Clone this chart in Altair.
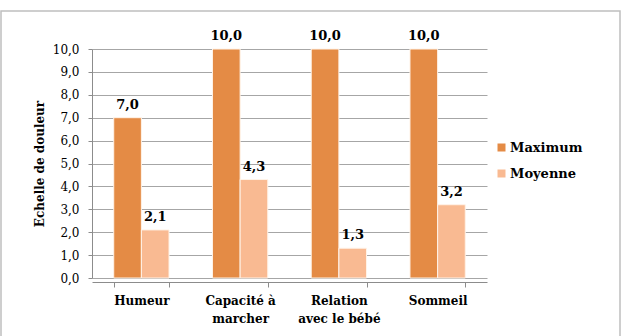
import altair as alt
import pandas as pd

# Pain scores per daily-life domain
categories = ["Humeur", "Capacité à|marcher", "Relation|avec le bébé", "Sommeil"]
series = ["Maximum", "Moyenne"]
maximum = [7.0, 10.0, 10.0, 10.0]
moyenne = [2.1, 4.3, 1.3, 3.2]
colors = ["#E48B45", "#F9BA92"]
y_ticks = [0, 1, 2, 3, 4, 5, 6, 7, 8, 9, 10]

rows = []
for cat, mx, my in zip(categories, maximum, moyenne):
    rows.append({"categorie": cat, "serie": "Maximum", "valeur": mx})
    rows.append({"categorie": cat, "serie": "Moyenne", "valeur": my})
df = pd.DataFrame(rows)

FONT = "DejaVu Serif"
W, H = 395, 229

x_enc = alt.X(
    "categorie:N",
    sort=categories,
    title=None,
    scale=alt.Scale(paddingInner=0.44, paddingOuter=0.22),
    axis=alt.Axis(
        labelExpr="split(datum.label, '|')",
        labelAngle=0,
        labelFont=FONT,
        labelFontWeight="bold",
        labelFontSize=12,
        labelColor="#000000",
        labelLineHeight=18,
        domainColor="#8C8C8C",
        tickColor="#8C8C8C",
        tickBand="extent",
        tickSize=5,
        labelPadding=8,
        offset=4,
    ),
)
xoff = alt.XOffset("serie:N", sort=series)
y_enc = alt.Y(
    "valeur:Q",
    scale=alt.Scale(domain=[0, 10], nice=False),
    title="Echelle de douleur",
    axis=alt.Axis(
        values=y_ticks,
        labelExpr="replace(format(datum.value, '.1f'), '.', ',')",
        labelFont=FONT,
        labelFontSize=12,
        labelColor="#000000",
        labelPadding=9,
        tickSize=4,
        tickColor="#8C8C8C",
        domainColor="#8C8C8C",
        gridColor="#A6A6A6",
        titleFont=FONT,
        titleFontSize=12,
        titleFontWeight="bold",
        titleColor="#000000",
        titlePadding=6,
    ),
)

base = alt.Chart(df).transform_calculate(
    etiquette="replace(format(datum.valeur, '.1f'), '.', ',')"
)

bars = base.mark_bar(stroke="#FFF3E8", strokeWidth=1).encode(
    x=x_enc,
    xOffset=xoff,
    y=y_enc,
    color=alt.Color(
        "serie:N",
        sort=series,
        scale=alt.Scale(domain=series, range=colors),
        legend=alt.Legend(
            title=None,
            orient="none",
            legendX=403,
            legendY=92,
            symbolType="square",
            symbolSize=64,
            symbolStrokeWidth=0,
            labelFont=FONT,
            labelFontSize=13,
            labelFontWeight="bold",
            labelColor="#000000",
            rowPadding=12,
            labelOffset=2,
        ),
    ),
)

labels = base.mark_text(
    dy=-13, font=FONT, fontSize=13, fontWeight="bold", color="#000000"
).encode(x=x_enc, xOffset=xoff, y=y_enc, text="etiquette:N")

frame = alt.Chart(pd.DataFrame({"k": [0]})).mark_rect(
    filled=False, stroke="#BFBFBF", strokeWidth=1.5
).encode(
    x=alt.value(-91), x2=alt.value(528), y=alt.value(-38), y2=alt.value(300)
)

chart = (
    alt.layer(frame, bars, labels)
    .properties(
        width=W,
        height=H,
        autosize=alt.AutoSizeParams(type="none"),
        padding={"left": 92, "top": 49, "right": 137, "bottom": 58},
        background="white",
    )
    .configure_view(stroke=None)
)

chart.save("out.html", embed_options={"renderer": "svg", "actions": False})
